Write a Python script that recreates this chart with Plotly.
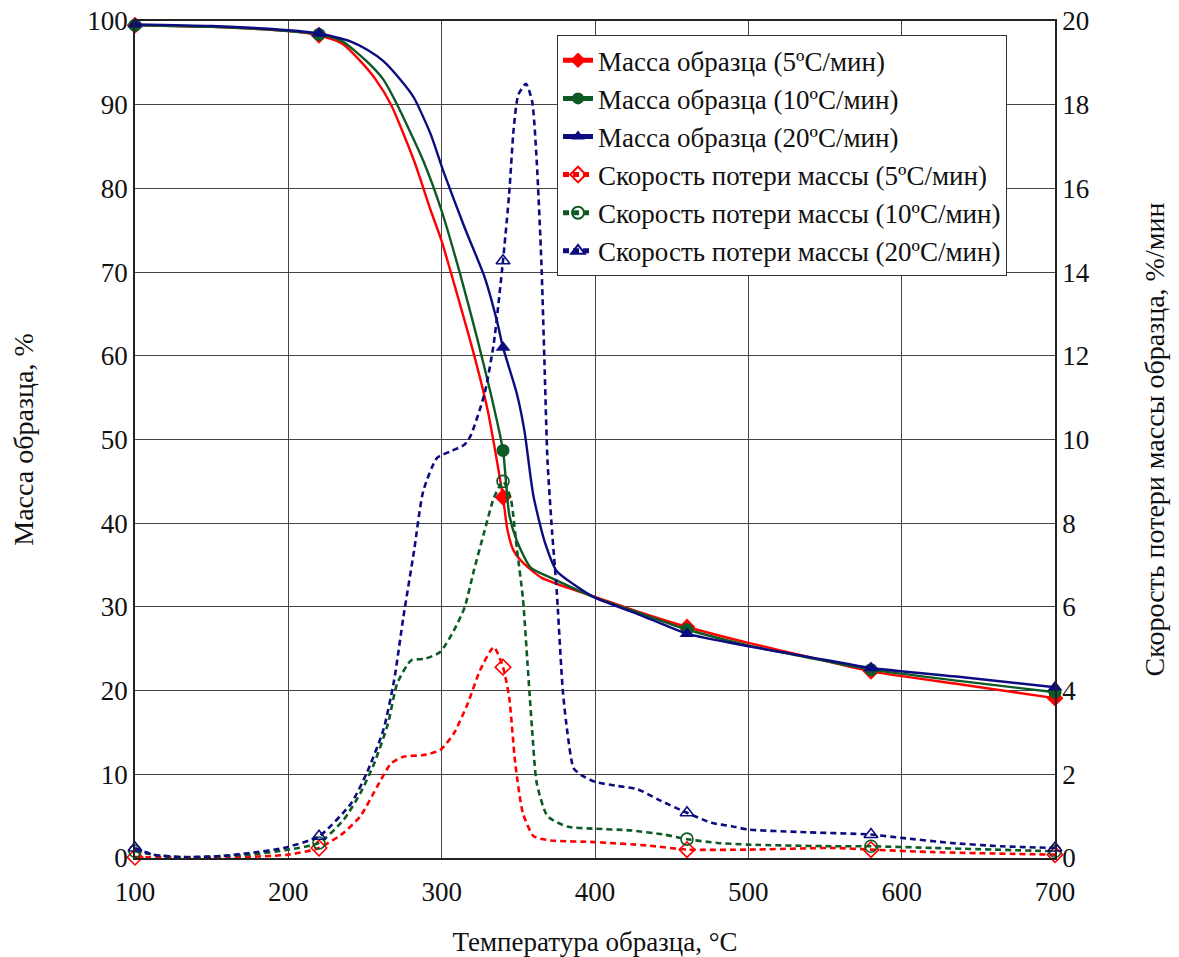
import plotly.graph_objects as go

# ---------------- data ----------------
MARKER_T = [100, 220, 340, 460, 580, 700]

# Mass of sample, %  (left axis)
T_M5 = [100, 150, 200, 220, 235, 247, 257, 267, 282, 293, 300, 310, 321, 330, 336, 340,
        343, 347, 354, 365, 382, 400, 430, 460, 500, 540, 580, 640, 700]
M5 = [99.5, 99.3, 98.8, 98.3, 97.3, 95.2, 93.0, 90.0, 83.3, 77.3, 73.7, 67.4, 60.2, 53.5, 47.5, 43.1,
      39.1, 36.7, 35.1, 33.5, 32.3, 31.2, 29.3, 27.6, 25.7, 24.0, 22.3, 20.7, 19.1]

T_M10 = [100, 150, 200, 220, 235, 251, 262, 271, 288, 300, 312, 323, 332, 340, 344, 349,
         358, 371, 385, 400, 430, 460, 500, 540, 580, 640, 700]
M10 = [99.5, 99.3, 98.8, 98.4, 97.6, 95.2, 93.0, 90.0, 83.3, 77.3, 69.8, 62.2, 55.5, 48.7, 41.1, 37.9,
       34.7, 33.5, 32.3, 31.1, 29.2, 27.3, 25.4, 23.9, 22.5, 21.1, 19.8]

T_M20 = [100, 150, 200, 220, 240, 252, 262, 273, 282, 293, 301, 315, 328, 336, 340, 349, 354,
         358, 360, 367, 375, 386, 400, 430, 460, 500, 540, 580, 640, 700]
M20 = [99.6, 99.4, 98.9, 98.5, 97.6, 96.5, 95.2, 93.0, 90.8, 86.4, 82.1, 75.3, 69.4, 64.2, 61.0, 55.5, 51.0,
       45.5, 43.1, 37.9, 34.3, 32.7, 31.1, 29.0, 26.8, 25.3, 24.0, 22.7, 21.6, 20.4]

# Rate of mass loss, %/min  (right axis)
T_R5 = [100, 130, 160, 200, 220, 236, 247, 258, 267, 275, 288, 299, 308, 317, 325, 334, 340,
        344, 348, 353, 360, 371, 400, 434, 460, 500, 556, 580, 621, 700]
R5 = [0.02, 0.01, 0.01, 0.08, 0.24, 0.6, 1.0, 1.71, 2.26, 2.42, 2.46, 2.58, 2.98, 3.69, 4.48, 5.04, 4.56,
      3.85, 2.26, 1.07, 0.52, 0.42, 0.38, 0.3, 0.2, 0.2, 0.24, 0.2, 0.14, 0.08]

T_R10 = [100, 115, 132, 175, 200, 220, 236, 247, 256, 265, 271, 280, 289, 299, 308, 315, 321, 328,
         334, 340, 345, 349, 353, 356, 359, 362, 369, 382, 400, 423, 445, 460, 480, 500, 556, 580,
         621, 700]
R10 = [0.16, 0.06, 0.02, 0.08, 0.2, 0.36, 0.91, 1.55, 2.26, 3.21, 4.17, 4.72, 4.76, 4.92, 5.44, 5.99,
       6.87, 7.82, 8.6, 9.0, 8.6, 7.4, 6.2, 4.64, 3.06, 1.79, 1.0, 0.75, 0.7, 0.66, 0.56, 0.45, 0.36,
       0.32, 0.28, 0.28, 0.24, 0.16]

T_R20 = [100, 112, 132, 153, 175, 197, 220, 241, 251, 262, 269, 275, 282, 288, 297, 306, 315, 319,
         328, 334, 340, 344, 347, 350, 355, 359, 362, 365, 367, 369, 372, 375, 379, 382, 386, 391,
         400, 415, 428, 441, 460, 476, 489, 500, 534, 580, 600, 632, 665, 700]
R20 = [0.24, 0.08, 0.02, 0.04, 0.12, 0.24, 0.52, 1.31, 2.02, 3.06, 4.25, 5.75, 7.34, 8.77, 9.56, 9.72,
       9.88, 10.1, 11.1, 12.3, 14.27, 15.86, 17.44, 18.24, 18.5, 18.08, 16.65, 14.27, 11.9, 9.5, 7.8,
       6.4, 4.0, 3.0, 2.15, 1.98, 1.82, 1.72, 1.64, 1.4, 1.08, 0.84, 0.76, 0.68, 0.62, 0.56, 0.48,
       0.36, 0.28, 0.24]

NAMES = [
    "Масса образца (5ºC/мин)",
    "Масса образца (10ºC/мин)",
    "Масса образца (20ºC/мин)",
    "Скорость потери массы (5ºC/мин)",
    "Скорость потери массы (10ºC/мин)",
    "Скорость потери массы (20ºC/мин)",
]
X_TITLE = "Температура образца, °C"
Y_TITLE = "Масса образца, %"
Y2_TITLE = "Скорость потери массы образца, %/мин"

# ---------------- styling ----------------
FONT = "Liberation Serif, Times New Roman, serif"
RED = "#ff0000"
GREEN = "#0d5a25"
NAVY = "#0c0c80"

series = [
    (T_M5, M5, NAMES[0], RED, "diamond", "solid", "y"),
    (T_M10, M10, NAMES[1], GREEN, "circle", "solid", "y"),
    (T_M20, M20, NAMES[2], NAVY, "triangle-up", "solid", "y"),
    (T_R5, R5, NAMES[3], RED, "diamond-open", "dash", "y2"),
    (T_R10, R10, NAMES[4], GREEN, "circle-open", "dash", "y2"),
    (T_R20, R20, NAMES[5], NAVY, "triangle-up-open", "dash", "y2"),
]

fig = go.Figure()
# draw dashed (rate) first, solid (mass) on top, legend order as in reference
order = [3, 4, 5, 0, 1, 2]
for i in order:
    t, v, name, col, sym, dash, ax = series[i]
    sel = [k for k, tt in enumerate(t) if tt in MARKER_T]
    fig.add_trace(go.Scatter(
        x=t, y=v, name=name, yaxis=ax, mode="lines+markers",
        line=dict(color=col, width=2.4 if dash == "solid" else 2.6,
                  dash="solid" if dash == "solid" else "6px,4px",
                  shape="spline", smoothing=0.6),
        marker=dict(symbol=sym, size=13 if "open" not in sym else 12, color=col,
                    line=dict(color=col, width=1.6 if "open" in sym else 0)),
        selectedpoints=sel,
        selected=dict(marker=dict(opacity=1)),
        unselected=dict(marker=dict(opacity=0)),
        legendrank=i + 1,
        cliponaxis=False,
    ))

axis_common = dict(
    showline=True, linecolor="#222", linewidth=1.5, ticks="",
    tickfont=dict(family=FONT, size=27, color="#111"),
    zeroline=False, automargin=False,
)

fig.update_layout(
    width=1179, height=957,
    margin=dict(l=135, r=124, t=21, b=99),
    paper_bgcolor="white", plot_bgcolor="white",
    font=dict(family=FONT, size=27, color="#111"),
    xaxis=dict(range=[100, 700], dtick=100, showgrid=True, gridcolor="#444", gridwidth=1.3,
               mirror=True, ticklabelstandoff=9,
               title=dict(text=X_TITLE, standoff=28, font=dict(family=FONT, size=27)),
               **axis_common),
    yaxis=dict(range=[0, 100], dtick=10, showgrid=True, gridcolor="#444", gridwidth=1.3,
               mirror=True, title=dict(text=Y_TITLE, standoff=46,
                                       font=dict(family=FONT, size=28)),
               **axis_common),
    yaxis2=dict(range=[0, 20], dtick=2, overlaying="y", side="right", showgrid=False,
                title=dict(text=Y2_TITLE, standoff=56, font=dict(family=FONT, size=28)),
                **axis_common),
    legend=dict(x=0.4587, y=0.983, xanchor="left", yanchor="top",
                bgcolor="white", bordercolor="#333", borderwidth=1,
                font=dict(family=FONT, size=27, color="#111"),
                itemsizing="constant", tracegroupgap=0),
    showlegend=True,
)

fig.write_html("out.html")
